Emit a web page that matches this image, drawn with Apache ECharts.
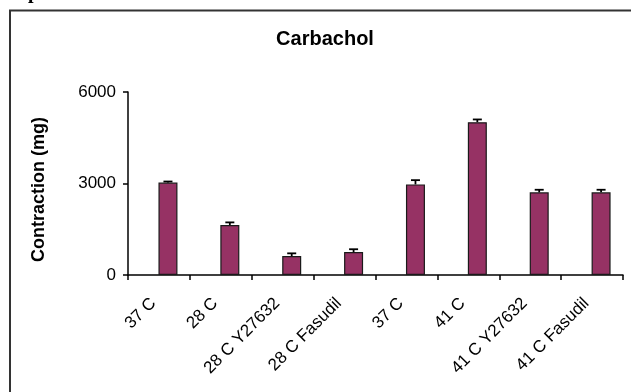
<!DOCTYPE html>
<html>
<head>
<meta charset="utf-8">
<script src="https://cdn.jsdelivr.net/npm/echarts@6/dist/echarts.min.js"></script>
<style>
  html, body { margin: 0; padding: 0; background: #ffffff; }
  #chart { width: 631px; height: 392px; }
</style>
</head>
<body>
<div id="chart"></div>
<script>
// Contraction response to carbachol at each temperature / inhibitor condition
const categories = ['37 C', '28 C', '28 C Y27632', '28 C Fasudil', '37 C', '41 C', '41 C Y27632', '41 C Fasudil'];
const contraction = [3030, 1640, 620, 750, 2970, 5010, 2710, 2710];
const errorUp = [35, 85, 90, 95, 140, 90, 85, 85];
const yTicks = [0, 3000, 6000];

const FONT = '"Liberation Sans", Arial, sans-serif';
const BAR_W = 19;
const BAR_GAP = -0.05;
// centre of the visible bar relative to its category centre (second slot of two)
const BAR_SHIFT = (BAR_W + BAR_W * BAR_GAP) / 2;

const chart = echarts.init(document.getElementById('chart'), null, { renderer: 'canvas' });

chart.setOption({
  animation: false,
  backgroundColor: '#ffffff',
  title: {
    text: 'Carbachol',
    left: 320,
    top: 24,
    textAlign: 'center',
    textStyle: { fontFamily: FONT, fontSize: 20, fontWeight: 'bold', color: '#000' }
  },
  grid: { left: 128, right: 8, top: 92, bottom: 117, containLabel: false },
  xAxis: {
    type: 'category',
    data: categories,
    boundaryGap: true,
    axisLine: { lineStyle: { color: '#000', width: 1.5 } },
    axisTick: { show: true, length: 5, lineStyle: { color: '#000', width: 1.5 } },
    axisLabel: {
      interval: 0,
      rotate: 45,
      margin: 20,
      padding: [0, 8, 0, 0],
      fontFamily: FONT,
      fontSize: 17,
      color: '#000'
    },
    splitLine: { show: false }
  },
  yAxis: {
    type: 'value',
    min: yTicks[0],
    max: yTicks[yTicks.length - 1],
    interval: yTicks[1] - yTicks[0],
    name: 'Contraction (mg)',
    nameLocation: 'middle',
    nameGap: 80,
    nameTextStyle: { fontFamily: FONT, fontSize: 18, fontWeight: 'bold', color: '#000', padding: [0, 12, 0, 0] },
    axisLine: { show: true, lineStyle: { color: '#000', width: 1.5 } },
    axisTick: { show: true, length: 5, lineStyle: { color: '#000', width: 1.5 } },
    axisLabel: {
      fontFamily: FONT,
      fontSize: 17,
      color: '#000',
      margin: 12,
      formatter: function (v) { return String(v); }
    },
    splitLine: { show: false }
  },
  series: [
    {
      // empty first slot of the cluster
      name: 'spacer',
      type: 'bar',
      barWidth: BAR_W,
      barGap: (BAR_GAP * 100) + '%',
      data: []
    },
    {
      name: 'Contraction',
      type: 'bar',
      barWidth: BAR_W,
      barGap: (BAR_GAP * 100) + '%',
      itemStyle: { color: '#963264', borderColor: '#1a1a1a', borderWidth: 1.2 },
      data: contraction
    },
    {
      name: 'SEM',
      type: 'custom',
      z: 5,
      data: contraction.map((v, i) => [i, v, errorUp[i]]),
      renderItem: function (params, api) {
        const i = api.value(0);
        const top = api.coord([i, api.value(1) + api.value(2)]);
        const base = api.coord([i, api.value(1)]);
        const x = base[0] + BAR_SHIFT;
        const cap = 4.5;
        const style = { stroke: '#000', lineWidth: 1.8 };
        return {
          type: 'group',
          children: [
            { type: 'line', shape: { x1: x, y1: base[1], x2: x, y2: top[1] }, style: style },
            { type: 'line', shape: { x1: x - cap, y1: top[1], x2: x + cap, y2: top[1] }, style: style }
          ]
        };
      }
    }
  ],
  graphic: [
    {
      type: 'rect',
      shape: { x: 10, y: 10.5, width: 660, height: 420 },
      style: { fill: 'none', stroke: '#333', lineWidth: 2 },
      silent: true
    },
    {
      type: 'text',
      left: 28,
      top: -17,
      style: { text: 'p', font: 'bold 20px "Liberation Serif", serif', fill: '#000' },
      silent: true
    }
  ]
});
</script>
</body>
</html>
